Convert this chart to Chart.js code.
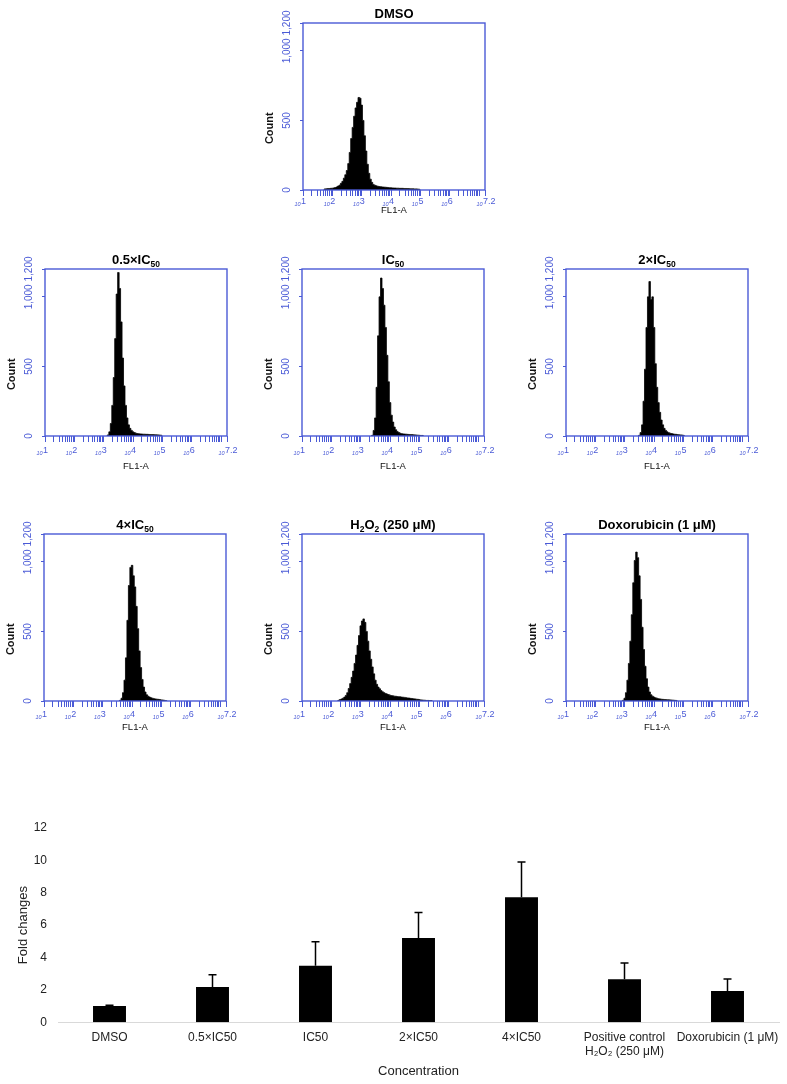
<!DOCTYPE html>
<html><head><meta charset="utf-8">
<script src="https://cdn.jsdelivr.net/npm/chart.js@4.4.0/dist/chart.umd.min.js"></script>
<style>
html,body{margin:0;padding:0;background:#fff;}
body{width:787px;height:1084px;position:relative;overflow:hidden;}
canvas{position:absolute;}
</style></head><body>
<script>
// ---------- DATA ----------
const BIN_WIDTH = 0.05; // histogram bin width, in decades (log10 units)
const histTitles = [
  [['DMSO',false]],
  [['0.5×IC',false],['50',true]],
  [['IC',false],['50',true]],
  [['2×IC',false],['50',true]],
  [['4×IC',false],['50',true]],
  [['H',false],['2',true],['O',false],['2',true],[' (250 μM)',false]],
  [['Doxorubicin (1 μM)',false]]
];
const histStarts = [1.75, 3.15, 3.40, 3.50, 3.60, 2.25, 2.95]; // log10 FL1-A of first bin
const dmsoCounts = [8,9,10,11,12,13,15,18,22,28,35,48,62,85,110,140,190,270,370,450,530,590,630,665,660,610,500,390,280,185,120,78,55,40,34,30,27,25,24,22,21,20,19,18,17,16,15,14,14,13,13,12,12,12,11,11,10,10,9,9,9,8,8,7,6];
const halfIc50Counts = [8,30,90,220,420,700,1020,1175,1060,820,560,360,220,130,80,55,40,30,25,20,18,16,15,14,13,13,12,12,11,10,10,10,9,9,8,7,6];
const ic50Counts = [5,40,130,350,720,1000,1135,1060,940,780,580,390,240,150,100,65,45,32,25,20,17,15,14,13,12,11,10,10,9,8,7,6,5,4,4];
const twoIc50Counts = [5,25,80,250,480,780,1000,1110,980,1000,780,520,350,240,170,115,80,55,40,30,24,20,18,15,13,12,10,9,8,7,5];
const fourIc50Counts = [5,20,60,150,310,580,830,960,975,900,820,680,520,360,240,155,100,65,45,35,28,23,20,17,15,13,12,10,8,7,5,3];
const h2o2Counts = [5,10,15,20,28,40,60,90,125,170,215,270,330,400,470,540,575,590,565,500,430,360,300,245,195,150,120,100,88,75,66,60,54,50,46,42,39,37,35,34,32,31,30,28,27,26,24,22,21,19,18,16,15,13,12,10,8,7,6,5,4,4,3,3];
const doxCounts = [5,20,60,150,270,430,620,850,1010,1070,1030,900,730,530,370,250,160,100,65,45,35,28,23,20,17,15,13,12,11,10,9,9,8,7,6,5,4];
const histCounts = [dmsoCounts, halfIc50Counts, ic50Counts, twoIc50Counts, fourIc50Counts, h2o2Counts, doxCounts];

const xTickLogValues = [1,2,3,4,5,6,7.2];
const xTickExponents = ['1','2','3','4','5','6','7.2'];
const yTickValues = [0,500,1000,1200];
const yTickLabels = ['0','500','1,000','1,200'];

const barCategories = ['DMSO','0.5×IC50','IC50','2×IC50','4×IC50',['Positive control','H₂O₂ (250 μM)'],'Doxorubicin (1 μM)'];
const barValues = [1.01,2.18,3.50,5.21,7.73,2.66,1.94];
const barErrors = [0.04,0.76,1.47,1.57,2.17,1.01,0.74];
const barYTicks = [0,2,4,6,8,10,12];

// ---------- LAYOUT ----------
const BLUE = '#4a5ad6';
const F = '"Liberation Sans", Arial, Helvetica, sans-serif';
const BOX_W = 182, BOX_H = 167, PAD_L = 44, PAD_T = 28, PAD_R = 25, PAD_B = 40;
const panelBoxes = [[303,23,0],[45,269,1],[302,269,1],[566,269,1],[44,534,2],[302,534,2],[566,534,2]];
const rowText = [{exp:14, ten:15.5, fl:22.5},{exp:17, ten:19, fl:32.5},{exp:16, ten:18, fl:29}];

// log-decade minor tick positions for the x axis
const minorTicks = [];
for (let d = 1; d <= 7; d++) for (let k = 1; k <= 9; k++) { const v = d + Math.log10(k); if (v <= 7.2001) minorTicks.push(v); }
minorTicks.push(7.2);

const histDecor = {
  id: 'histDecor',
  afterDraw(chart) {
    const o = chart.options.plugins.histDecor;
    const {ctx, chartArea: a, scales: {x, y}} = chart;
    const rt = rowText[o.row];
    ctx.save();
    ctx.strokeStyle = BLUE; ctx.lineWidth = 1.4;
    ctx.strokeRect(a.left, a.top, a.right - a.left, a.bottom - a.top);
    // y tick labels (rotated)
    ctx.fillStyle = BLUE; ctx.font = '10px ' + F;
    yTickValues.forEach((v, i) => {
      const py = y.getPixelForValue(v);
      ctx.save(); ctx.translate(a.left - 16, py); ctx.rotate(-Math.PI / 2);
      ctx.textAlign = 'center'; ctx.textBaseline = 'middle';
      ctx.fillText(yTickLabels[i], 0, 0); ctx.restore();
    });
    // x tick labels 10^n
    ctx.textBaseline = 'alphabetic';
    xTickLogValues.forEach((v, i) => {
      const px = x.getPixelForValue(v);
      ctx.font = 'italic 5.5px ' + F; ctx.textAlign = 'right';
      ctx.fillText('10', px - 2.5, a.bottom + rt.ten);
      ctx.font = '9px ' + F; ctx.textAlign = 'left';
      ctx.fillText(xTickExponents[i], px - 2, a.bottom + rt.exp);
    });
    const cx = (a.left + a.right) / 2;
    // FL1-A
    ctx.fillStyle = '#111'; ctx.font = '9.5px ' + F; ctx.textAlign = 'center';
    ctx.fillText('FL1-A', cx, a.bottom + rt.fl);
    // Count
    ctx.save(); ctx.translate(a.left - 33, a.bottom - 0.37 * (a.bottom - a.top)); ctx.rotate(-Math.PI / 2);
    ctx.font = 'bold 11px ' + F; ctx.textBaseline = 'middle'; ctx.fillText('Count', 0, 0); ctx.restore();
    // title with subscripts
    const segs = histTitles[o.idx];
    const mainFont = 'bold 13px ' + F, subFont = 'bold 8.5px ' + F;
    let total = 0;
    segs.forEach(s => { ctx.font = s[1] ? subFont : mainFont; total += ctx.measureText(s[0]).width; });
    let tx = cx - total / 2; const base = a.top - 5;
    ctx.textAlign = 'left'; ctx.fillStyle = '#000';
    segs.forEach(s => {
      ctx.font = s[1] ? subFont : mainFont;
      ctx.fillText(s[0], tx, base + (s[1] ? 3 : 0));
      tx += ctx.measureText(s[0]).width;
    });
    ctx.restore();
  }
};

panelBoxes.forEach((b, idx) => {
  const cv = document.createElement('canvas');
  cv.width = PAD_L + BOX_W + PAD_R; cv.height = PAD_T + BOX_H + PAD_B;
  cv.style.left = (b[0] - PAD_L) + 'px'; cv.style.top = (b[1] - PAD_T) + 'px';
  document.body.appendChild(cv);
  const start = histStarts[idx], counts = histCounts[idx];
  const pts = [{x: start - BIN_WIDTH, y: 0}];
  counts.forEach((c, i) => pts.push({x: start + i * BIN_WIDTH, y: c}));
  pts.push({x: start + counts.length * BIN_WIDTH, y: 0});
  new Chart(cv, {
    type: 'line',
    data: {datasets: [{data: pts, stepped: 'middle', fill: 'origin', backgroundColor: '#000', borderColor: '#000', borderWidth: 0.8, pointRadius: 0}]},
    options: {
      responsive: false, animation: false, events: [],
      layout: {padding: {left: PAD_L, top: PAD_T, right: PAD_R, bottom: PAD_B}},
      plugins: {legend: {display: false}, tooltip: {enabled: false}, histDecor: {idx: idx, row: b[2]}},
      scales: {
        x: {type: 'linear', min: 1, max: 7.2,
            afterBuildTicks: s => { s.ticks = minorTicks.map(v => ({value: v})); },
            afterFit: s => { s.height = 0; },
            ticks: {display: false},
            grid: {display: true, drawOnChartArea: false, drawTicks: true, tickLength: 6, color: BLUE, lineWidth: 1},
            border: {display: false}},
        y: {type: 'linear', min: 0, max: 1200,
            afterBuildTicks: s => { s.ticks = yTickValues.map(v => ({value: v})); },
            afterFit: s => { s.width = 0; },
            ticks: {display: false},
            grid: {display: true, drawOnChartArea: false, drawTicks: true, tickLength: 3, color: BLUE, lineWidth: 1},
            border: {display: false}}
      }
    },
    plugins: [histDecor]
  });
});

// ---------- BAR CHART ----------
const errPlugin = {
  id: 'errBars',
  afterDatasetsDraw(chart) {
    const {ctx, scales: {y}} = chart;
    const meta = chart.getDatasetMeta(0);
    ctx.save(); ctx.strokeStyle = '#000'; ctx.lineWidth = 1.5;
    meta.data.forEach((bar, i) => {
      const y1 = y.getPixelForValue(barValues[i]);
      const y2 = y.getPixelForValue(barValues[i] + barErrors[i]);
      ctx.beginPath(); ctx.moveTo(bar.x, y1); ctx.lineTo(bar.x, y2);
      ctx.moveTo(bar.x - 4, y2); ctx.lineTo(bar.x + 4, y2); ctx.stroke();
    });
    ctx.restore();
  }
};
const bc = document.createElement('canvas');
bc.width = 787; bc.height = 284; bc.style.left = '0px'; bc.style.top = '800px';
document.body.appendChild(bc);
new Chart(bc, {
  type: 'bar',
  data: {labels: barCategories, datasets: [{data: barValues, backgroundColor: '#000', borderWidth: 0, barPercentage: 0.32, categoryPercentage: 1}]},
  options: {
    responsive: false, animation: false, events: [],
    layout: {padding: {left: 0, top: 28, right: 8, bottom: 0}},
    plugins: {legend: {display: false}, tooltip: {enabled: false}},
    scales: {
      x: {grid: {display: false, drawTicks: false}, border: {display: true, color: '#d9d9d9', width: 1},
          ticks: {color: '#222', font: {size: 12, family: F}, padding: 8, maxRotation: 0, autoSkip: false},
          title: {display: true, text: 'Concentration', color: '#222', font: {size: 13, family: F}, padding: {top: 0, bottom: 4.5}},
          afterFit: s => { s.height = 61.7; }},
      y: {min: 0, max: 12,
          afterBuildTicks: s => { s.ticks = barYTicks.map(v => ({value: v})); },
          grid: {display: false, drawTicks: false}, border: {display: false},
          ticks: {color: '#222', font: {size: 12, family: F}, padding: 11},
          title: {display: true, text: 'Fold changes', color: '#222', font: {size: 13, family: F}, padding: {top: 15.2, bottom: 0}},
          afterFit: s => { s.width = 58; }}
    }
  },
  plugins: [errPlugin]
});
</script>
</body></html>
